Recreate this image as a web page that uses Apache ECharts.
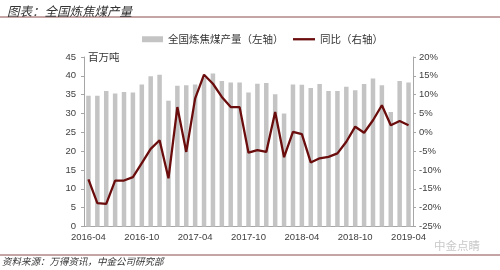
<!DOCTYPE html>
<html><head><meta charset="utf-8">
<script src="https://cdn.jsdelivr.net/npm/echarts@6/dist/echarts.min.js"></script>
<style>html,body{margin:0;padding:0;background:#fff}#c{width:500px;height:270px}</style>
</head><body><div id="c"></div>
<script>
const categories = ['2016-04','2016-05','2016-06','2016-07','2016-08','2016-09','2016-10','2016-11','2016-12',
 '2017-01','2017-02','2017-03','2017-04','2017-05','2017-06','2017-07','2017-08','2017-09','2017-10','2017-11','2017-12',
 '2018-01','2018-02','2018-03','2018-04','2018-05','2018-06','2018-07','2018-08','2018-09','2018-10','2018-11','2018-12',
 '2019-01','2019-02','2019-03','2019-04'];
const output = [34.7,34.7,36.0,35.3,35.7,35.6,37.7,39.9,40.3,33.4,37.4,37.5,37.7,39.5,40.6,38.6,38.2,38.2,35.6,37.9,38.1,35.1,30.0,37.7,37.6,36.8,37.8,36.0,36.0,37.1,36.2,37.8,39.3,37.5,30.4,38.6,38.2];
const yoy = [-12.5,-18.8,-19.0,-12.8,-12.8,-11.9,-8.2,-4.4,-2.1,-12.2,6.7,-5.2,9.0,15.3,12.9,9.4,6.7,6.7,-5.4,-4.7,-5.2,5.4,-6.6,0.1,-0.5,-8.0,-6.9,-6.5,-5.6,-2.5,1.5,-0.1,3.2,7.2,1.9,3.0,1.9];

const chart = echarts.init(document.getElementById('c'));
const cjk = '"Noto Sans CJK SC", sans-serif';
const num = '"Liberation Sans", Arial, sans-serif';
const axisCol = '#404040';
const legendText = {fontFamily: cjk, fontSize: 10.5, color: '#333'};
chart.setOption({
  animation: false,
  title: {text: '图表：全国炼焦煤产量', left: 2, top: 0,
    textStyle: {fontFamily: cjk, fontSize: 12.5, fontStyle: 'italic', fontWeight: 'normal', color: '#333'}},
  legend: [
    {left: 137, top: 29, itemWidth: 21, itemHeight: 6, textStyle: legendText,
      data: [{name: '全国炼焦煤产量（左轴）', icon: 'rect'}]},
    {left: 288, top: 29, itemWidth: 22, itemHeight: 2.3, itemGap: 2, textStyle: legendText,
      data: [{name: '同比（右轴）', icon: 'rect'}]}
  ],
  grid: {left: 84, right: 87, top: 57, bottom: 43.5},
  xAxis: {type: 'category', data: categories, boundaryGap: true,
    axisLine: {lineStyle: {color: '#a6a6a6'}},
    axisTick: {interval: 5, length: 3, lineStyle: {color: '#a6a6a6'}},
    axisLabel: {interval: 5, margin: 6, fontFamily: num, fontSize: 9.5, color: axisCol}},
  yAxis: [
    {type: 'value', min: 0, max: 45, interval: 5, name: '百万吨', nameLocation: 'end', nameGap: 0,
      nameTextStyle: {fontFamily: cjk, fontSize: 10.5, color: '#333', align: 'left', verticalAlign: 'middle', padding: [0,0,0,4]},
      axisLine: {show: true, lineStyle: {color: '#a6a6a6'}},
      axisTick: {show: true, length: 3, lineStyle: {color: '#a6a6a6'}},
      splitLine: {show: false},
      axisLabel: {margin: 8, fontFamily: num, fontSize: 9.5, color: axisCol}},
    {type: 'value', min: -25, max: 20, interval: 5, position: 'right',
      axisLine: {show: true, lineStyle: {color: '#a6a6a6'}},
      axisTick: {show: true, length: 3, lineStyle: {color: '#a6a6a6'}},
      splitLine: {show: false},
      axisLabel: {margin: 6, fontFamily: num, fontSize: 9.5, color: axisCol, formatter: '{value}%'}}
  ],
  series: [
    {name: '全国炼焦煤产量（左轴）', type: 'bar', data: output, barWidth: 4.5,
      itemStyle: {color: '#c4c4c4'}},
    {name: '同比（右轴）', type: 'line', yAxisIndex: 1, data: yoy, symbol: 'none', showSymbol: false,
      lineStyle: {color: '#6b0d0d', width: 2.3}, itemStyle: {color: '#6b0d0d'}}
  ],
  graphic: [
    {type: 'line', shape: {x1: 0, y1: 17, x2: 500, y2: 17}, style: {stroke: '#8a4a4a', lineWidth: 1}},
    {type: 'line', shape: {x1: 0, y1: 255, x2: 500, y2: 255}, style: {stroke: '#8a4a4a', lineWidth: 1}},
    {type: 'text', left: 2, top: 257, style: {text: '资料来源：万得资讯，中金公司研究部', fontFamily: cjk, fontSize: 9.5, fontStyle: 'italic', fill: '#333'}},
    {type: 'text', left: 434, top: 240, style: {text: '中金点睛', fontFamily: cjk, fontSize: 11.5, fill: '#c8c8c8'}}
  ]
});
</script></body></html>
